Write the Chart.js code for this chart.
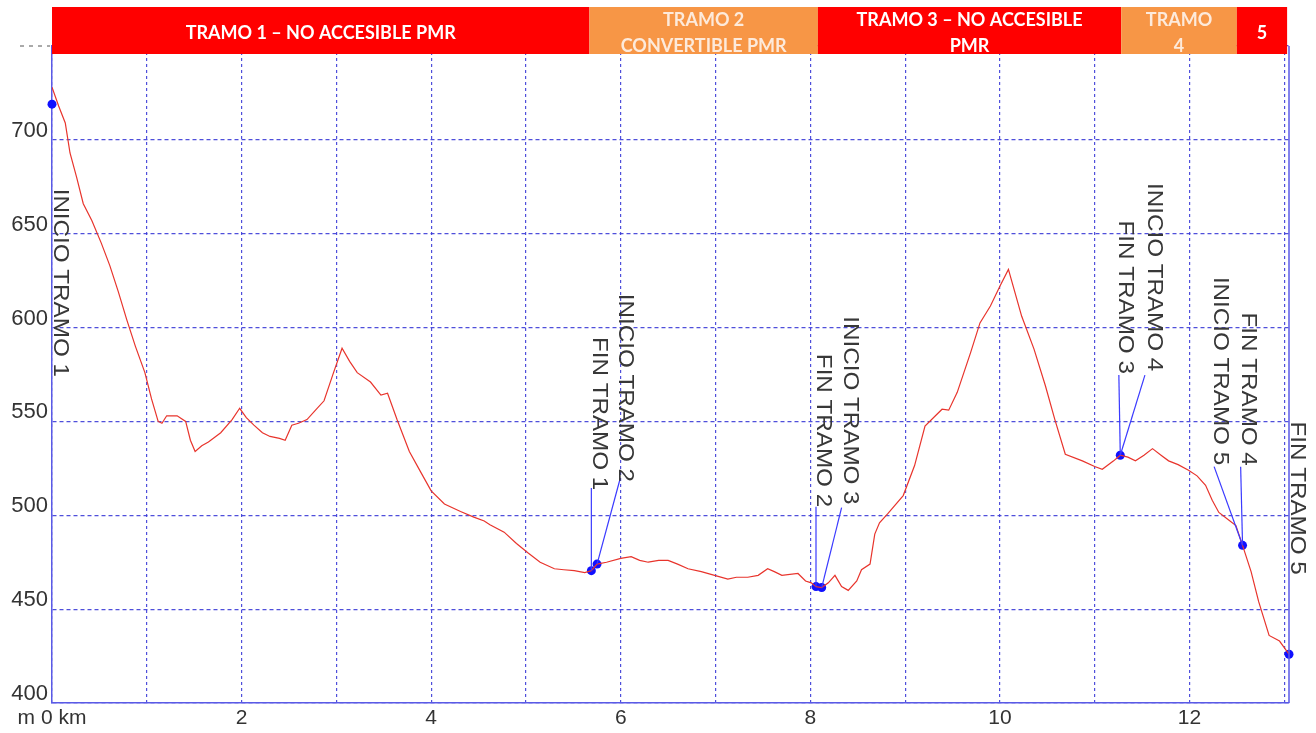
<!DOCTYPE html>
<html>
<head>
<meta charset="utf-8">
<script src="https://cdn.jsdelivr.net/npm/chart.js@4.4.1/dist/chart.umd.min.js"></script>
<style>
  html, body { margin: 0; padding: 0; background: #fff; }
  #wrap { width: 1316px; height: 733px; }
</style>
</head>
<body>
<div id="wrap"><canvas id="perfil"></canvas></div>
<script>
// Perfil: distancia (km) y altitud (m)
const km = [0.00, 0.07, 0.14, 0.19, 0.26, 0.33, 0.42, 0.52, 0.61, 0.70, 0.79, 0.88, 0.98, 1.05, 1.12, 1.16,
  1.21, 1.32, 1.41, 1.46, 1.51, 1.58, 1.65, 1.78, 1.90, 1.98, 2.05, 2.13, 2.22, 2.30, 2.40, 2.46,
  2.53, 2.60, 2.69, 2.78, 2.87, 2.97, 3.06, 3.14, 3.22, 3.36, 3.47, 3.54, 3.64, 3.77, 3.89, 4.00,
  4.14, 4.31, 4.45, 4.56, 4.62, 4.77, 4.90, 5.02, 5.15, 5.30, 5.40, 5.51, 5.62, 5.69, 5.75, 5.85,
  6.00, 6.11, 6.20, 6.29, 6.40, 6.50, 6.60, 6.71, 6.85, 6.99, 7.13, 7.22, 7.34, 7.45, 7.55, 7.62,
  7.70, 7.87, 7.95, 8.01, 8.06, 8.12, 8.19, 8.26, 8.33, 8.40, 8.49, 8.54, 8.63, 8.68, 8.73, 8.82,
  8.98, 9.10, 9.21, 9.32, 9.39, 9.46, 9.55, 9.69, 9.79, 9.90, 10.00, 10.09, 10.23, 10.36, 10.48, 10.58,
  10.69, 10.87, 11.00, 11.08, 11.20, 11.27, 11.35, 11.43, 11.52, 11.61, 11.70, 11.78, 11.88, 11.99, 12.08, 12.17,
  12.24, 12.31, 12.40, 12.49, 12.56, 12.65, 12.73, 12.84, 12.95, 13.05];
const alt = [728, 718, 709, 693, 680, 666, 657, 645, 633, 619, 604, 590, 576, 562, 550, 549,
  553, 553, 550, 540, 534, 537, 539, 544, 551, 557, 552, 548, 544, 542, 541, 540,
  548, 549, 551, 556, 561, 576, 589, 582, 576, 571, 564, 565, 551, 534, 523, 513,
  506, 502, 499, 497, 495, 491, 485, 480, 475, 471.5, 471, 470.5, 469.5, 470.5, 474, 475,
  477, 478, 476, 475, 476, 476, 474, 471.5, 470, 468, 466, 467, 467, 468, 471.5, 470,
  468, 469, 465, 464, 462, 461.5, 464, 468, 462, 460, 465, 471, 474, 490, 496, 501,
  510.5, 526.5, 547.5, 553, 556.5, 556, 565.5, 586.5, 602.5, 611.5, 622, 631, 606, 588.5, 569, 551,
  532.5, 529, 526, 524.5, 529, 532, 531, 529, 532, 535.5, 532, 529, 527, 524, 521, 516,
  508, 501.5, 498, 494.5, 484, 470, 454, 436, 433, 426];

// Puntos azules (inicio / fin de cada tramo)
const puntoKm = [0, 5.69, 5.75, 8.06, 8.12, 11.27, 12.56, 13.05];
const puntoAlt = [719, 470.5, 474, 462, 461.5, 532, 484, 426];

// Rotulos verticales: texto, columna (km), arranque del texto (m), punto al que apuntan
const rotulos = ['INICIO TRAMO 1', 'FIN TRAMO 1', 'INICIO TRAMO 2', 'FIN TRAMO 2', 'INICIO TRAMO 3',
  'FIN TRAMO 3', 'INICIO TRAMO 4', 'INICIO TRAMO 5', 'FIN TRAMO 4', 'FIN TRAMO 5'];
const rotuloKm = [0.09, 5.77, 6.05, 8.13, 8.42, 11.32, 11.63, 12.32, 12.62, 13.13];
const rotuloAlt = [674, 595, 618, 586, 606, 657, 677, 627, 608, 550];
const rotuloPunto = [0, 1, 2, 3, 4, 5, 5, 6, 6, 7];
// arranque de la linea de llamada (km, m); null = sin linea
const llamadaKm = [null, 5.69, 5.99, 8.06, 8.33, 11.255, 11.53, 12.26, 12.54, null];
const llamadaAlt = [null, 514.5, 518.8, 504.6, 504.1, 574.7, 574.7, 525.9, 525.9, null];

// Banda superior de tramos
const tramoDesde = [0, 5.67, 8.08, 11.28, 12.5];
const tramoHasta = [5.67, 8.08, 11.28, 12.5, 13.03];
const tramoTexto = [['TRAMO 1 – NO ACCESIBLE PMR'], ['TRAMO 2', 'CONVERTIBLE PMR'],
  ['TRAMO 3 – NO ACCESIBLE', 'PMR'], ['TRAMO', '4'], ['5']];
const tramoTipo = ['no', 'conv', 'no', 'conv', 'no'];

Chart.defaults.font.family = '"Liberation Sans", Arial, sans-serif';
Chart.defaults.color = '#333';

const GRID = 'rgba(60, 60, 215, 0.9)';
const EJE = '#5a5ae6';

const decoracion = {
  id: 'decoracion',
  afterDraw(chart) {
    const { ctx, chartArea: a, scales: { x, y } } = chart;
    ctx.save();

    // borde derecho
    ctx.strokeStyle = EJE;
    ctx.lineWidth = 1.5;
    ctx.beginPath();
    ctx.moveTo(a.right, a.top);
    ctx.lineTo(a.right, a.bottom);
    ctx.stroke();

    // trozo de rejilla a la izquierda del eje, arriba
    const y750 = y.getPixelForValue(750);
    ctx.strokeStyle = '#555';
    ctx.lineWidth = 1;
    ctx.setLineDash([4, 5]);
    ctx.beginPath();
    ctx.moveTo(20, y750);
    ctx.lineTo(a.left - 2, y750);
    ctx.stroke();
    ctx.setLineDash([]);

    // lineas de llamada
    ctx.strokeStyle = '#3a3aff';
    ctx.lineWidth = 1.2;
    rotulos.forEach((r, i) => {
      if (llamadaKm[i] === null) return;
      const p = rotuloPunto[i];
      ctx.beginPath();
      ctx.moveTo(x.getPixelForValue(llamadaKm[i]), y.getPixelForValue(llamadaAlt[i]));
      ctx.lineTo(x.getPixelForValue(puntoKm[p]), y.getPixelForValue(puntoAlt[p]));
      ctx.stroke();
    });

    // rotulos verticales
    ctx.fillStyle = '#383838';
    ctx.font = '22px "Liberation Sans", Arial, sans-serif';
    ctx.textAlign = 'left';
    ctx.textBaseline = 'middle';
    rotulos.forEach((r, i) => {
      ctx.save();
      ctx.translate(x.getPixelForValue(rotuloKm[i]), y.getPixelForValue(rotuloAlt[i]));
      ctx.rotate(Math.PI / 2);
      ctx.scale(1.1, 1);
      ctx.fillText(r, 0, 0);
      ctx.restore();
    });

    // banda de tramos
    const top = 7, alto = 47;
    tramoDesde.forEach((d, i) => {
      const x1 = x.getPixelForValue(d);
      const x2 = x.getPixelForValue(tramoHasta[i]);
      ctx.fillStyle = tramoTipo[i] === 'no' ? '#ff0000' : '#f79646';
      ctx.fillRect(x1, top, x2 - x1, alto);
      ctx.save();
      ctx.beginPath();
      ctx.rect(x1, top, x2 - x1, alto);
      ctx.clip();
      ctx.fillStyle = tramoTipo[i] === 'no' ? '#ffffff' : '#fdeadb';
      ctx.font = 'bold 18px Lato, "Open Sans", sans-serif';
      ctx.textAlign = 'center';
      ctx.textBaseline = 'middle';
      const lineas = tramoTexto[i];
      const cx = (x1 + x2) / 2;
      if (lineas.length === 1) {
        ctx.fillText(lineas[0], cx, 33);
      } else {
        ctx.fillText(lineas[0], cx, 20);
        ctx.fillText(lineas[1], cx, 46);
      }
      ctx.restore();
    });

    ctx.restore();
  }
};

const ctx = document.getElementById('perfil').getContext('2d');
const perfilChart = new Chart(ctx, {
  type: 'line',
  data: {
    datasets: [{
      label: 'Perfil',
      data: km.map((k, i) => ({ x: k, y: alt[i] })),
      borderColor: '#e8342c',
      borderWidth: 1.2,
      pointRadius: 0,
      tension: 0
    }, {
      type: 'scatter',
      label: 'Tramos',
      data: puntoKm.map((k, i) => ({ x: k, y: puntoAlt[i] })),
      pointRadius: 4.5,
      pointBackgroundColor: '#1010ff',
      pointBorderWidth: 0,
      clip: false
    }]
  },
  options: {
    responsive: true,
    maintainAspectRatio: false,
    animation: false,
    layout: { padding: { top: 46, right: 27, left: 0, bottom: 0 } },
    plugins: {
      legend: { display: false },
      tooltip: { enabled: false }
    },
    scales: {
      x: {
        type: 'linear',
        min: 0,
        max: 13.05,
        afterFit: s => { s.height = 30; },
        grid: { color: GRID, lineWidth: 1.2, drawTicks: false },
        border: { color: EJE, width: 1.5, dash: [3, 3] },
        ticks: {
          stepSize: 1,
          includeBounds: false,
          autoSkip: false,
          maxRotation: 0,
          padding: 3,
          font: { size: 21 },
          callback: v => (v === 0 ? 'm 0 km' : (v % 2 === 0 ? v : ''))
        }
      },
      y: {
        min: 400,
        max: 750,
        afterFit: s => { s.width = 52; },
        grid: { color: GRID, lineWidth: 1.2, drawTicks: false },
        border: { color: EJE, width: 1.5, dash: [4, 3] },
        ticks: {
          stepSize: 50,
          padding: 4,
          labelOffset: -9,
          font: { size: 22 },
          callback: v => (v === 750 ? '' : v)
        }
      }
    }
  },
  plugins: [decoracion]
});
</script>
</body>
</html>
